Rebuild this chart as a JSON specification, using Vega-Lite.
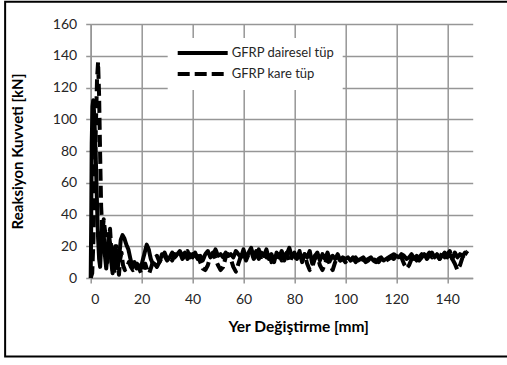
{
  "$schema": "https://vega.github.io/schema/vega-lite/v6.json",
  "width": 382,
  "height": 254,
  "autosize": "none",
  "padding": {"left": 90.7, "top": 24, "right": 34.3, "bottom": 87},
  "background": "white",
  "config": {
    "font": "Lato",
    "view": {"stroke": null},
    "axis": {
      "grid": true,
      "gridColor": "#969696", "gridWidth": 1.5, "gridOpacity": 1,
      "domainColor": "#969696", "domainWidth": 1.5,
      "tickColor": "#969696", "tickWidth": 1.5, "tickSize": 5,
      "labelFont": "Lato", "labelFontSize": 14, "labelColor": "#262626",
      "titleFont": "Lato", "titleFontSize": 15, "titleFontWeight": "bold", "titleColor": "#000000"
    },
    "axisX": {"titleFontSize": 15.5, "titleX": 207.5}
  },
  "datasets": {
    "curves": [
      {"x":0,"y":0,"s":"GFRP dairesel tüp"},{"x":0.2,"y":35,"s":"GFRP dairesel tüp"},{"x":0.4,"y":85,"s":"GFRP dairesel tüp"},{"x":0.7,"y":108,"s":"GFRP dairesel tüp"},{"x":1.0,"y":112,"s":"GFRP dairesel tüp"},{"x":1.3,"y":105,"s":"GFRP dairesel tüp"},{"x":1.7,"y":90,"s":"GFRP dairesel tüp"},{"x":2.1,"y":70,"s":"GFRP dairesel tüp"},{"x":2.5,"y":45,"s":"GFRP dairesel tüp"},{"x":2.9,"y":25,"s":"GFRP dairesel tüp"},{"x":3.3,"y":12,"s":"GFRP dairesel tüp"},{"x":3.7,"y":7,"s":"GFRP dairesel tüp"},{"x":4.1,"y":20,"s":"GFRP dairesel tüp"},{"x":4.6,"y":35,"s":"GFRP dairesel tüp"},{"x":5.1,"y":28,"s":"GFRP dairesel tüp"},{"x":5.6,"y":14,"s":"GFRP dairesel tüp"},{"x":6.1,"y":6,"s":"GFRP dairesel tüp"},{"x":6.6,"y":15,"s":"GFRP dairesel tüp"},{"x":7.1,"y":28,"s":"GFRP dairesel tüp"},{"x":7.6,"y":22,"s":"GFRP dairesel tüp"},{"x":8.1,"y":10,"s":"GFRP dairesel tüp"},{"x":8.6,"y":3,"s":"GFRP dairesel tüp"},{"x":9.1,"y":12,"s":"GFRP dairesel tüp"},{"x":9.6,"y":20,"s":"GFRP dairesel tüp"},{"x":10.1,"y":14,"s":"GFRP dairesel tüp"},{"x":10.6,"y":6,"s":"GFRP dairesel tüp"},{"x":11.1,"y":12,"s":"GFRP dairesel tüp"},{"x":11.8,"y":24,"s":"GFRP dairesel tüp"},{"x":12.5,"y":27,"s":"GFRP dairesel tüp"},{"x":13.2,"y":25,"s":"GFRP dairesel tüp"},{"x":14,"y":21,"s":"GFRP dairesel tüp"},{"x":14.8,"y":18,"s":"GFRP dairesel tüp"},{"x":15.6,"y":12,"s":"GFRP dairesel tüp"},{"x":16.4,"y":7,"s":"GFRP dairesel tüp"},{"x":17.2,"y":10,"s":"GFRP dairesel tüp"},{"x":18,"y":6,"s":"GFRP dairesel tüp"},{"x":18.8,"y":8,"s":"GFRP dairesel tüp"},{"x":19.6,"y":6,"s":"GFRP dairesel tüp"},{"x":20.4,"y":11,"s":"GFRP dairesel tüp"},{"x":21.2,"y":16,"s":"GFRP dairesel tüp"},{"x":22,"y":21,"s":"GFRP dairesel tüp"},{"x":22.8,"y":18,"s":"GFRP dairesel tüp"},{"x":23.6,"y":12,"s":"GFRP dairesel tüp"},{"x":24.4,"y":9,"s":"GFRP dairesel tüp"},
      {"x":25,"y":9,"s":"GFRP dairesel tüp"},{"x":26,"y":7,"s":"GFRP dairesel tüp"},{"x":27,"y":10,"s":"GFRP dairesel tüp"},{"x":28,"y":15,"s":"GFRP dairesel tüp"},{"x":29,"y":14,"s":"GFRP dairesel tüp"},{"x":30,"y":11,"s":"GFRP dairesel tüp"},{"x":31,"y":13,"s":"GFRP dairesel tüp"},{"x":32,"y":16,"s":"GFRP dairesel tüp"},{"x":33,"y":13,"s":"GFRP dairesel tüp"},{"x":34,"y":15,"s":"GFRP dairesel tüp"},{"x":35,"y":17,"s":"GFRP dairesel tüp"},{"x":36,"y":14,"s":"GFRP dairesel tüp"},{"x":37,"y":16,"s":"GFRP dairesel tüp"},{"x":38,"y":12,"s":"GFRP dairesel tüp"},{"x":39,"y":15,"s":"GFRP dairesel tüp"},{"x":40,"y":13,"s":"GFRP dairesel tüp"},{"x":41,"y":16,"s":"GFRP dairesel tüp"},{"x":42,"y":12,"s":"GFRP dairesel tüp"},{"x":43,"y":14,"s":"GFRP dairesel tüp"},{"x":44,"y":11,"s":"GFRP dairesel tüp"},{"x":45,"y":15,"s":"GFRP dairesel tüp"},{"x":46,"y":17,"s":"GFRP dairesel tüp"},{"x":47,"y":13,"s":"GFRP dairesel tüp"},{"x":48,"y":14,"s":"GFRP dairesel tüp"},{"x":49,"y":18,"s":"GFRP dairesel tüp"},{"x":50,"y":14,"s":"GFRP dairesel tüp"},{"x":51,"y":15,"s":"GFRP dairesel tüp"},{"x":52,"y":13,"s":"GFRP dairesel tüp"},{"x":53,"y":16,"s":"GFRP dairesel tüp"},{"x":54,"y":14,"s":"GFRP dairesel tüp"},{"x":55,"y":15,"s":"GFRP dairesel tüp"},{"x":56,"y":13,"s":"GFRP dairesel tüp"},{"x":57,"y":17,"s":"GFRP dairesel tüp"},{"x":58,"y":15,"s":"GFRP dairesel tüp"},{"x":59,"y":13,"s":"GFRP dairesel tüp"},{"x":60,"y":18,"s":"GFRP dairesel tüp"},{"x":61,"y":12,"s":"GFRP dairesel tüp"},{"x":62,"y":16,"s":"GFRP dairesel tüp"},{"x":63,"y":19,"s":"GFRP dairesel tüp"},{"x":64,"y":13,"s":"GFRP dairesel tüp"},{"x":65,"y":17,"s":"GFRP dairesel tüp"},{"x":66,"y":12,"s":"GFRP dairesel tüp"},{"x":67,"y":16,"s":"GFRP dairesel tüp"},{"x":68,"y":14,"s":"GFRP dairesel tüp"},{"x":69,"y":18,"s":"GFRP dairesel tüp"},{"x":70,"y":12,"s":"GFRP dairesel tüp"},{"x":71,"y":15,"s":"GFRP dairesel tüp"},{"x":72,"y":10,"s":"GFRP dairesel tüp"},{"x":73,"y":16,"s":"GFRP dairesel tüp"},{"x":74,"y":13,"s":"GFRP dairesel tüp"},{"x":75,"y":17,"s":"GFRP dairesel tüp"},{"x":76,"y":11,"s":"GFRP dairesel tüp"},{"x":77,"y":15,"s":"GFRP dairesel tüp"},{"x":78,"y":19,"s":"GFRP dairesel tüp"},{"x":79,"y":13,"s":"GFRP dairesel tüp"},{"x":80,"y":16,"s":"GFRP dairesel tüp"},{"x":81,"y":12,"s":"GFRP dairesel tüp"},{"x":82,"y":17,"s":"GFRP dairesel tüp"},{"x":83,"y":10,"s":"GFRP dairesel tüp"},{"x":84,"y":15,"s":"GFRP dairesel tüp"},{"x":85,"y":13,"s":"GFRP dairesel tüp"},{"x":86,"y":17,"s":"GFRP dairesel tüp"},{"x":87,"y":9,"s":"GFRP dairesel tüp"},{"x":88,"y":14,"s":"GFRP dairesel tüp"},{"x":89,"y":16,"s":"GFRP dairesel tüp"},{"x":90,"y":11,"s":"GFRP dairesel tüp"},{"x":91,"y":15,"s":"GFRP dairesel tüp"},{"x":92,"y":12,"s":"GFRP dairesel tüp"},{"x":93,"y":16,"s":"GFRP dairesel tüp"},{"x":94,"y":11,"s":"GFRP dairesel tüp"},{"x":95,"y":14,"s":"GFRP dairesel tüp"},{"x":96,"y":12,"s":"GFRP dairesel tüp"},{"x":97,"y":15,"s":"GFRP dairesel tüp"},{"x":98,"y":11,"s":"GFRP dairesel tüp"},{"x":99,"y":13,"s":"GFRP dairesel tüp"},{"x":100,"y":12,"s":"GFRP dairesel tüp"},{"x":101,"y":13,"s":"GFRP dairesel tüp"},{"x":102,"y":11,"s":"GFRP dairesel tüp"},{"x":103,"y":12,"s":"GFRP dairesel tüp"},{"x":104,"y":13,"s":"GFRP dairesel tüp"},{"x":105,"y":11,"s":"GFRP dairesel tüp"},{"x":106,"y":12,"s":"GFRP dairesel tüp"},{"x":107,"y":13,"s":"GFRP dairesel tüp"},{"x":108,"y":11,"s":"GFRP dairesel tüp"},{"x":109,"y":12,"s":"GFRP dairesel tüp"},{"x":110,"y":13,"s":"GFRP dairesel tüp"},{"x":111,"y":11,"s":"GFRP dairesel tüp"},{"x":112,"y":10,"s":"GFRP dairesel tüp"},{"x":113,"y":12,"s":"GFRP dairesel tüp"},{"x":114,"y":13,"s":"GFRP dairesel tüp"},{"x":115,"y":11,"s":"GFRP dairesel tüp"},{"x":116,"y":12,"s":"GFRP dairesel tüp"},{"x":117,"y":13,"s":"GFRP dairesel tüp"},{"x":118,"y":14,"s":"GFRP dairesel tüp"},{"x":119,"y":15,"s":"GFRP dairesel tüp"},{"x":120,"y":14,"s":"GFRP dairesel tüp"},{"x":121,"y":13,"s":"GFRP dairesel tüp"},{"x":122,"y":15,"s":"GFRP dairesel tüp"},{"x":123,"y":14,"s":"GFRP dairesel tüp"},{"x":124,"y":12,"s":"GFRP dairesel tüp"},{"x":125,"y":13,"s":"GFRP dairesel tüp"},{"x":126,"y":15,"s":"GFRP dairesel tüp"},{"x":127,"y":12,"s":"GFRP dairesel tüp"},{"x":128,"y":14,"s":"GFRP dairesel tüp"},{"x":129,"y":11,"s":"GFRP dairesel tüp"},{"x":130,"y":13,"s":"GFRP dairesel tüp"},{"x":131,"y":15,"s":"GFRP dairesel tüp"},{"x":132,"y":12,"s":"GFRP dairesel tüp"},{"x":133,"y":14,"s":"GFRP dairesel tüp"},{"x":134,"y":16,"s":"GFRP dairesel tüp"},{"x":135,"y":13,"s":"GFRP dairesel tüp"},{"x":136,"y":15,"s":"GFRP dairesel tüp"},{"x":137,"y":12,"s":"GFRP dairesel tüp"},{"x":138,"y":14,"s":"GFRP dairesel tüp"},{"x":139,"y":16,"s":"GFRP dairesel tüp"},{"x":140,"y":13,"s":"GFRP dairesel tüp"},{"x":141,"y":15,"s":"GFRP dairesel tüp"},{"x":142,"y":12,"s":"GFRP dairesel tüp"},{"x":143,"y":16,"s":"GFRP dairesel tüp"},{"x":144,"y":13,"s":"GFRP dairesel tüp"},{"x":145,"y":15,"s":"GFRP dairesel tüp"},{"x":146,"y":14,"s":"GFRP dairesel tüp"},{"x":147,"y":16,"s":"GFRP dairesel tüp"},{"x":148,"y":15,"s":"GFRP dairesel tüp"},
      {"x":0,"y":0,"s":"GFRP kare tüp"},{"x":0.6,"y":3,"s":"GFRP kare tüp"},{"x":1.1,"y":25,"s":"GFRP kare tüp"},{"x":1.6,"y":65,"s":"GFRP kare tüp"},{"x":2.1,"y":100,"s":"GFRP kare tüp"},{"x":2.5,"y":126,"s":"GFRP kare tüp"},{"x":2.9,"y":136,"s":"GFRP kare tüp"},{"x":3.3,"y":115,"s":"GFRP kare tüp"},{"x":3.7,"y":78,"s":"GFRP kare tüp"},{"x":4.1,"y":45,"s":"GFRP kare tüp"},{"x":4.6,"y":28,"s":"GFRP kare tüp"},{"x":5.1,"y":37,"s":"GFRP kare tüp"},{"x":5.6,"y":30,"s":"GFRP kare tüp"},{"x":6.1,"y":18,"s":"GFRP kare tüp"},{"x":6.6,"y":10,"s":"GFRP kare tüp"},{"x":7.1,"y":24,"s":"GFRP kare tüp"},{"x":7.6,"y":31,"s":"GFRP kare tüp"},{"x":8.1,"y":17,"s":"GFRP kare tüp"},{"x":8.6,"y":5,"s":"GFRP kare tüp"},{"x":9.1,"y":2,"s":"GFRP kare tüp"},{"x":9.6,"y":14,"s":"GFRP kare tüp"},{"x":10.1,"y":20,"s":"GFRP kare tüp"},{"x":10.6,"y":8,"s":"GFRP kare tüp"},{"x":11.1,"y":2,"s":"GFRP kare tüp"},{"x":11.6,"y":12,"s":"GFRP kare tüp"},{"x":12.1,"y":16,"s":"GFRP kare tüp"},{"x":12.7,"y":8,"s":"GFRP kare tüp"},{"x":13.4,"y":5,"s":"GFRP kare tüp"},{"x":14.2,"y":7,"s":"GFRP kare tüp"},{"x":15,"y":10,"s":"GFRP kare tüp"},{"x":15.8,"y":7,"s":"GFRP kare tüp"},{"x":16.6,"y":5,"s":"GFRP kare tüp"},{"x":17.4,"y":6,"s":"GFRP kare tüp"},{"x":18.2,"y":9,"s":"GFRP kare tüp"},{"x":19,"y":6,"s":"GFRP kare tüp"},{"x":19.8,"y":3,"s":"GFRP kare tüp"},{"x":20.6,"y":6,"s":"GFRP kare tüp"},{"x":21.4,"y":9,"s":"GFRP kare tüp"},{"x":22.2,"y":5,"s":"GFRP kare tüp"},{"x":23,"y":3,"s":"GFRP kare tüp"},{"x":23.8,"y":7,"s":"GFRP kare tüp"},{"x":24.6,"y":11,"s":"GFRP kare tüp"},
      {"x":25,"y":12,"s":"GFRP kare tüp"},{"x":26,"y":14,"s":"GFRP kare tüp"},{"x":27,"y":10,"s":"GFRP kare tüp"},{"x":28,"y":13,"s":"GFRP kare tüp"},{"x":29,"y":16,"s":"GFRP kare tüp"},{"x":30,"y":12,"s":"GFRP kare tüp"},{"x":31,"y":14,"s":"GFRP kare tüp"},{"x":32,"y":11,"s":"GFRP kare tüp"},{"x":33,"y":15,"s":"GFRP kare tüp"},{"x":34,"y":13,"s":"GFRP kare tüp"},{"x":35,"y":16,"s":"GFRP kare tüp"},{"x":36,"y":12,"s":"GFRP kare tüp"},{"x":37,"y":14,"s":"GFRP kare tüp"},{"x":38,"y":17,"s":"GFRP kare tüp"},{"x":39,"y":13,"s":"GFRP kare tüp"},{"x":40,"y":15,"s":"GFRP kare tüp"},{"x":41,"y":12,"s":"GFRP kare tüp"},{"x":42,"y":14,"s":"GFRP kare tüp"},{"x":43,"y":10,"s":"GFRP kare tüp"},{"x":44,"y":6,"s":"GFRP kare tüp"},{"x":45,"y":5,"s":"GFRP kare tüp"},{"x":46,"y":8,"s":"GFRP kare tüp"},{"x":47,"y":14,"s":"GFRP kare tüp"},{"x":48,"y":16,"s":"GFRP kare tüp"},{"x":49,"y":12,"s":"GFRP kare tüp"},{"x":50,"y":8,"s":"GFRP kare tüp"},{"x":51,"y":5,"s":"GFRP kare tüp"},{"x":52,"y":7,"s":"GFRP kare tüp"},{"x":53,"y":13,"s":"GFRP kare tüp"},{"x":54,"y":15,"s":"GFRP kare tüp"},{"x":55,"y":12,"s":"GFRP kare tüp"},{"x":56,"y":7,"s":"GFRP kare tüp"},{"x":57,"y":4,"s":"GFRP kare tüp"},{"x":58,"y":9,"s":"GFRP kare tüp"},{"x":59,"y":14,"s":"GFRP kare tüp"},{"x":60,"y":16,"s":"GFRP kare tüp"},{"x":61,"y":11,"s":"GFRP kare tüp"},{"x":62,"y":15,"s":"GFRP kare tüp"},{"x":63,"y":17,"s":"GFRP kare tüp"},{"x":64,"y":12,"s":"GFRP kare tüp"},{"x":65,"y":14,"s":"GFRP kare tüp"},{"x":66,"y":18,"s":"GFRP kare tüp"},{"x":67,"y":11,"s":"GFRP kare tüp"},{"x":68,"y":15,"s":"GFRP kare tüp"},{"x":69,"y":13,"s":"GFRP kare tüp"},{"x":70,"y":16,"s":"GFRP kare tüp"},{"x":71,"y":10,"s":"GFRP kare tüp"},{"x":72,"y":14,"s":"GFRP kare tüp"},{"x":73,"y":12,"s":"GFRP kare tüp"},{"x":74,"y":15,"s":"GFRP kare tüp"},{"x":75,"y":11,"s":"GFRP kare tüp"},{"x":76,"y":14,"s":"GFRP kare tüp"},{"x":77,"y":16,"s":"GFRP kare tüp"},{"x":78,"y":10,"s":"GFRP kare tüp"},{"x":79,"y":13,"s":"GFRP kare tüp"},{"x":80,"y":15,"s":"GFRP kare tüp"},{"x":81,"y":11,"s":"GFRP kare tüp"},{"x":82,"y":14,"s":"GFRP kare tüp"},{"x":83,"y":12,"s":"GFRP kare tüp"},{"x":84,"y":15,"s":"GFRP kare tüp"},{"x":85,"y":9,"s":"GFRP kare tüp"},{"x":86,"y":5,"s":"GFRP kare tüp"},{"x":87,"y":7,"s":"GFRP kare tüp"},{"x":88,"y":12,"s":"GFRP kare tüp"},{"x":89,"y":14,"s":"GFRP kare tüp"},{"x":90,"y":8,"s":"GFRP kare tüp"},{"x":91,"y":5,"s":"GFRP kare tüp"},{"x":92,"y":9,"s":"GFRP kare tüp"},{"x":93,"y":13,"s":"GFRP kare tüp"},{"x":94,"y":8,"s":"GFRP kare tüp"},{"x":95,"y":5,"s":"GFRP kare tüp"},{"x":96,"y":10,"s":"GFRP kare tüp"},{"x":97,"y":13,"s":"GFRP kare tüp"},{"x":98,"y":11,"s":"GFRP kare tüp"},{"x":99,"y":12,"s":"GFRP kare tüp"},{"x":100,"y":10,"s":"GFRP kare tüp"},{"x":101,"y":12,"s":"GFRP kare tüp"},{"x":102,"y":11,"s":"GFRP kare tüp"},{"x":103,"y":13,"s":"GFRP kare tüp"},{"x":104,"y":10,"s":"GFRP kare tüp"},{"x":105,"y":12,"s":"GFRP kare tüp"},{"x":106,"y":11,"s":"GFRP kare tüp"},{"x":107,"y":12,"s":"GFRP kare tüp"},{"x":108,"y":10,"s":"GFRP kare tüp"},{"x":109,"y":11,"s":"GFRP kare tüp"},{"x":110,"y":13,"s":"GFRP kare tüp"},{"x":111,"y":12,"s":"GFRP kare tüp"},{"x":112,"y":11,"s":"GFRP kare tüp"},{"x":113,"y":10,"s":"GFRP kare tüp"},{"x":114,"y":12,"s":"GFRP kare tüp"},{"x":115,"y":13,"s":"GFRP kare tüp"},{"x":116,"y":11,"s":"GFRP kare tüp"},{"x":117,"y":12,"s":"GFRP kare tüp"},{"x":118,"y":13,"s":"GFRP kare tüp"},{"x":119,"y":12,"s":"GFRP kare tüp"},{"x":120,"y":14,"s":"GFRP kare tüp"},{"x":121,"y":15,"s":"GFRP kare tüp"},{"x":122,"y":13,"s":"GFRP kare tüp"},{"x":123,"y":9,"s":"GFRP kare tüp"},{"x":124,"y":6,"s":"GFRP kare tüp"},{"x":125,"y":8,"s":"GFRP kare tüp"},{"x":126,"y":12,"s":"GFRP kare tüp"},{"x":127,"y":14,"s":"GFRP kare tüp"},{"x":128,"y":11,"s":"GFRP kare tüp"},{"x":129,"y":13,"s":"GFRP kare tüp"},{"x":130,"y":15,"s":"GFRP kare tüp"},{"x":131,"y":12,"s":"GFRP kare tüp"},{"x":132,"y":14,"s":"GFRP kare tüp"},{"x":133,"y":16,"s":"GFRP kare tüp"},{"x":134,"y":13,"s":"GFRP kare tüp"},{"x":135,"y":15,"s":"GFRP kare tüp"},{"x":136,"y":14,"s":"GFRP kare tüp"},{"x":137,"y":12,"s":"GFRP kare tüp"},{"x":138,"y":16,"s":"GFRP kare tüp"},{"x":139,"y":13,"s":"GFRP kare tüp"},{"x":140,"y":15,"s":"GFRP kare tüp"},{"x":141,"y":17,"s":"GFRP kare tüp"},{"x":142,"y":12,"s":"GFRP kare tüp"},{"x":143,"y":9,"s":"GFRP kare tüp"},{"x":144,"y":5,"s":"GFRP kare tüp"},{"x":145,"y":8,"s":"GFRP kare tüp"},{"x":146,"y":13,"s":"GFRP kare tüp"},{"x":147,"y":15,"s":"GFRP kare tüp"},{"x":148,"y":17,"s":"GFRP kare tüp"}
    ]
  },
  "layer": [
    {
      "data": {"values": [{}]},
      "mark": {"type": "rect", "fill": null, "stroke": "#000000", "strokeWidth": 2, "clip": false},
      "encoding": {
        "x": {
          "datum": -33.6, "type": "quantitative", "scale": {"domain": [0, 150], "nice": false},
          "axis": {"grid": true, "values": [0, 20, 40, 60, 80, 100, 120, 140], "title": "Yer Değiştirme [mm]", "labelPadding": 9, "titlePadding": 13}
        },
        "x2": {"datum": 166},
        "y": {
          "datum": 174, "type": "quantitative", "scale": {"domain": [0, 160], "nice": false},
          "axis": {"grid": true, "values": [0, 20, 40, 60, 80, 100, 120, 140, 160], "title": "Reaksiyon Kuvveti [kN]", "labelPadding": 9, "titlePadding": 27}
        },
        "y2": {"datum": -49.5}
      }
    },
    {
      "data": {"name": "curves"},
      "mark": {"type": "line", "color": "#000000", "strokeWidth": 4, "strokeJoin": "round", "clip": false},
      "encoding": {
        "x": {
          "field": "x", "type": "quantitative",
          "scale": {"domain": [0, 150], "nice": false},
          "axis": {"grid": true, "values": [0, 20, 40, 60, 80, 100, 120, 140], "title": "Yer Değiştirme [mm]", "labelPadding": 9, "titlePadding": 13}
        },
        "y": {
          "field": "y", "type": "quantitative",
          "scale": {"domain": [0, 160], "nice": false},
          "axis": {"grid": true, "values": [0, 20, 40, 60, 80, 100, 120, 140, 160], "title": "Reaksiyon Kuvveti [kN]", "labelPadding": 9, "titlePadding": 27}
        },
        "detail": {"field": "s"},
        "strokeDash": {
          "field": "s", "type": "nominal",
          "scale": {"domain": ["GFRP dairesel tüp", "GFRP kare tüp"], "range": [[1, 0], [12, 5]]},
          "legend": {
            "title": null, "orient": "none", "legendX": 77, "legendY": 14,
            "fillColor": "white", "padding": 8, "symbolType": "M-1,0H9", "symbolSize": 100,
            "symbolStrokeWidth": 4, "symbolStrokeColor": "#000000",
            "labelFont": "Lato", "labelFontSize": 13, "labelColor": "#262626", "labelOffset": 42,
            "rowPadding": 5
          }
        }
      }
    }
  ]
}
